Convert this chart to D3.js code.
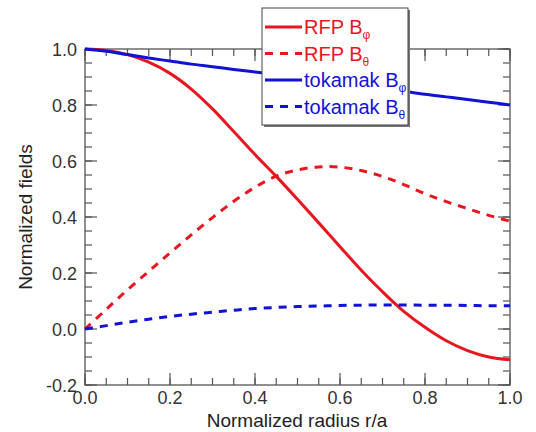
<!DOCTYPE html>
<html>
<head>
<meta charset="utf-8">
<script src="https://cdn.jsdelivr.net/npm/d3@7"></script>
<style>
  body { margin: 0; background: #fff; }
  text { font-family: "Liberation Sans", Arial, Helvetica, sans-serif; }
</style>
</head>
<body>
<div id="chart"></div>
<script>
// Radius grid and field profiles
const radius = [0, 0.05, 0.1, 0.15, 0.2, 0.25, 0.3, 0.35, 0.4, 0.45, 0.5,
                0.55, 0.6, 0.65, 0.7, 0.75, 0.8, 0.85, 0.9, 0.95, 1.0];
const rfpBphi = [1.0, 0.995, 0.98, 0.953, 0.913, 0.857, 0.786, 0.705, 0.623, 0.545, 0.463,
                 0.379, 0.294, 0.21, 0.133, 0.063, 0.006, -0.042, -0.077, -0.1, -0.11];
const rfpBtheta = [0, 0.07, 0.14, 0.206, 0.272, 0.336, 0.398, 0.456, 0.506, 0.546, 0.568,
                   0.579, 0.578, 0.566, 0.545, 0.516, 0.483, 0.455, 0.43, 0.406, 0.385];
const tokBphi = [1.0, 0.992, 0.98, 0.968, 0.957, 0.946, 0.937, 0.927, 0.918, 0.909, 0.9,
                 0.89, 0.88, 0.87, 0.86, 0.849, 0.838, 0.829, 0.82, 0.81, 0.80];
const tokBtheta = [0, 0.012, 0.024, 0.035, 0.045, 0.053, 0.06, 0.067, 0.073, 0.077, 0.08,
                   0.082, 0.084, 0.085, 0.086, 0.086, 0.085, 0.085, 0.084, 0.083, 0.083];

const xTicks = [0, 0.2, 0.4, 0.6, 0.8, 1.0];
const yTicks = [-0.2, 0, 0.2, 0.4, 0.6, 0.8, 1.0];

const red = "#e8161e";
const blue = "#1212d6";
const frame = "#555";

const series = [
  {name: "RFP B", sub: "φ", values: rfpBphi, color: red, dash: null},
  {name: "RFP B", sub: "θ", values: rfpBtheta, color: red, dash: "8,7"},
  {name: "tokamak B", sub: "φ", values: tokBphi, color: blue, dash: null},
  {name: "tokamak B", sub: "θ", values: tokBtheta, color: blue, dash: "8,7"}
];

const W = 536, H = 432;
const svg = d3.select("#chart").append("svg")
  .attr("width", W).attr("height", H);
svg.append("rect").attr("width", W).attr("height", H).attr("fill", "#fff");

const x = d3.scaleLinear().domain([0, 1]).range([85, 510]);
const y = d3.scaleLinear().domain([-0.2, 1.0]).range([385, 49]);

// plain hyphen for negatives, like the original
const fmt = d => d3.format(".1f")(d).replace("−", "-");
const minorX = d3.range(0, 1.0001, 0.05);
const minorY = d3.range(-0.2, 1.0001, 0.05);

// inward ticks on all four sides
function ticks(axis, vals, len) {
  const g = svg.append("g").attr("stroke", frame).attr("stroke-width", 1.2);
  vals.forEach(v => {
    if (axis === "x") {
      g.append("line").attr("x1", x(v)).attr("x2", x(v)).attr("y1", y(-0.2)).attr("y2", y(-0.2) - len);
      g.append("line").attr("x1", x(v)).attr("x2", x(v)).attr("y1", y(1)).attr("y2", y(1) + len);
    } else {
      g.append("line").attr("y1", y(v)).attr("y2", y(v)).attr("x1", x(0)).attr("x2", x(0) + len);
      g.append("line").attr("y1", y(v)).attr("y2", y(v)).attr("x1", x(1)).attr("x2", x(1) - len);
    }
  });
}
ticks("x", minorX, 7);
ticks("x", xTicks, 12);
ticks("y", minorY, 7);
ticks("y", yTicks, 12);

svg.append("rect")
  .attr("x", x(0)).attr("y", y(1))
  .attr("width", x(1) - x(0)).attr("height", y(-0.2) - y(1))
  .attr("fill", "none").attr("stroke", frame).attr("stroke-width", 1.3);

// tick labels
svg.append("g").selectAll("text").data(xTicks).join("text")
  .attr("x", d => x(d)).attr("y", 404)
  .attr("text-anchor", "middle").attr("font-size", 18).attr("fill", "#333")
  .text(fmt);
svg.append("g").selectAll("text").data(yTicks).join("text")
  .attr("x", 77).attr("y", d => y(d) + 6.5)
  .attr("text-anchor", "end").attr("font-size", 18).attr("fill", "#333")
  .text(fmt);

// axis titles
svg.append("text")
  .attr("x", 297).attr("y", 426.5).attr("text-anchor", "middle")
  .attr("font-size", 19).attr("fill", "#222")
  .text("Normalized radius r/a");
svg.append("text")
  .attr("transform", `translate(32,217) rotate(-90)`)
  .attr("text-anchor", "middle").attr("font-size", 19).attr("fill", "#222")
  .text("Normalized fields");

// curves
const line = d3.line()
  .x((d, i) => x(radius[i]))
  .y(d => y(d))
  .curve(d3.curveCatmullRom.alpha(0.5));

svg.append("g").selectAll("path").data(series).join("path")
  .attr("d", d => line(d.values))
  .attr("fill", "none")
  .attr("stroke", d => d.color)
  .attr("stroke-width", 3)
  .attr("stroke-dasharray", d => d.dash);

// legend
const lg = svg.append("g").attr("transform", "translate(262,8)");
lg.append("rect").attr("x", 2).attr("y", 2).attr("width", 146).attr("height", 117).attr("fill", "#777");
lg.append("rect").attr("width", 146).attr("height", 117)
  .attr("fill", "#fff").attr("stroke", "#444").attr("stroke-width", 1);

const rows = lg.selectAll("g.row").data(series).join("g")
  .attr("class", "row")
  .attr("transform", (d, i) => `translate(0,${19 + i * 26.5})`);
rows.append("line")
  .attr("x1", 3).attr("x2", 40)
  .attr("stroke", d => d.color).attr("stroke-width", 3)
  .attr("stroke-dasharray", d => d.dash);
const lt = rows.append("text")
  .attr("x", 42).attr("y", 7)
  .attr("font-size", 20).attr("fill", d => d.color);
lt.append("tspan").text(d => d.name);
lt.append("tspan").attr("dy", 5).attr("font-size", 12).text(d => d.sub);
</script>
</body>
</html>
